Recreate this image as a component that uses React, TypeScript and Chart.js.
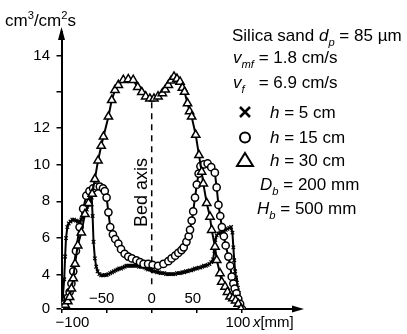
import React, { useEffect, useRef } from 'react';
import { Chart, LinearScale, registerables } from 'chart.js';

const FONT = '"Liberation Sans", Arial, Helvetica, sans-serif';

// h = 5 cm (×)
const crossX = [-100, -98.5, -97, -96, -95, -93.5, -92, -90, -88, -86, -84, -82, -80, -78, -76, -74, -72, -70, -68, -66.5, -65.5, -64.5, -63, -61.5, -60, -58, -56, -54, -52, -50, -48, -46, -44, -42, -40, -38, -36, -34, -32, -30, -28, -26, -24, -22, -20, -18, -16, -14, -12, -10, -8, -6, -4, -2, 0, 2, 4, 6, 8, 10, 12, 14, 16, 18, 20, 22, 24, 26, 28, 30, 32, 34, 36, 38, 40, 42, 44, 46, 48, 50, 52, 54, 56, 58, 60, 62, 64, 66, 68, 69.5, 70.5, 72, 74, 76, 78, 80, 82, 84, 86, 88, 89.5, 90.5, 91.5, 92.5, 93.5, 94.5, 95.5, 96.5, 97.5, 98.5, 99.5];
const crossY = [0, 1.5, 3.5, 5.0, 6.0, 6.6, 6.8, 6.9, 7.0, 7.0, 6.95, 6.9, 6.9, 7.0, 7.15, 7.35, 7.55, 7.8, 8.05, 8.2, 7.2, 5.8, 4.9, 4.45, 4.2, 4.05, 3.95, 3.95, 4.0, 4.0, 4.05, 4.1, 4.15, 4.2, 4.25, 4.3, 4.35, 4.35, 4.4, 4.45, 4.5, 4.5, 4.5, 4.5, 4.5, 4.5, 4.5, 4.45, 4.45, 4.45, 4.4, 4.35, 4.3, 4.3, 4.25, 4.2, 4.2, 4.15, 4.15, 4.1, 4.1, 4.1, 4.05, 4.05, 4.05, 4.05, 4.05, 4.05, 4.1, 4.1, 4.1, 4.15, 4.15, 4.2, 4.2, 4.25, 4.25, 4.3, 4.35, 4.35, 4.4, 4.4, 4.45, 4.5, 4.5, 4.55, 4.6, 4.7, 4.85, 5.3, 5.9, 6.15, 6.25, 6.3, 6.35, 6.4, 6.45, 6.5, 6.55, 6.6, 6.3, 5.5, 4.8, 4.2, 3.7, 3.1, 2.5, 1.9, 1.2, 0.6, 0];

// h = 15 cm (○)
const circleX = [-100, -96.5, -93, -91, -89, -87, -84, -80, -76, -72.5, -69, -65, -61, -57.5, -54, -52, -50, -48, -46, -43, -40.5, -37, -34, -30, -26, -22, -17, -13, -9, -4, 1, 7, 13, 18.5, 22, 26, 29.5, 33, 35.5, 38.5, 41, 42.5, 44.3, 46, 48, 50, 52, 54, 58, 62, 66, 70, 72, 74, 76, 77.8, 80, 82, 85, 87, 88.7, 90.5, 92, 94, 96, 98, 100];
const circleY = [0, 0.6, 1.3, 2.0, 3.0, 4.2, 5.3, 6.6, 7.6, 8.3, 8.55, 8.7, 8.8, 8.8, 8.7, 8.55, 8.2, 7.4, 6.6, 6.2, 5.95, 5.7, 5.4, 5.15, 5.0, 4.9, 4.8, 4.7, 4.6, 4.6, 4.55, 4.5, 4.6, 4.75, 4.9, 5.05, 5.2, 5.35, 5.5, 5.8, 6.1, 6.45, 6.95, 7.45, 8.2, 8.9, 9.5, 9.9, 10.0, 10.05, 9.85, 9.55, 8.75, 7.8, 7.2, 6.6, 6.1, 5.6, 5.0, 4.5, 3.8, 3.0, 2.4, 1.85, 1.2, 0.6, 0];

// h = 30 cm (△)
const triX = [-100, -96, -93, -91, -89, -87, -85, -82, -78, -74, -70, -66, -63, -59.5, -56, -53.5, -48, -44.3, -40.7, -37, -31.5, -26, -20.5, -15.5, -11, -6.7, -2, 2.5, 7, 11.8, 15, 18.4, 21.5, 24.7, 28, 31.4, 34, 36.4, 39.7, 42, 44.3, 48.8, 52.4, 55.4, 57.2, 61, 64.6, 66.5, 70.2, 72.1, 75.7, 77.6, 81.3, 84, 86.8, 90, 93, 96, 99];
const triY = [0, 0.5, 0.9, 1.4, 2.4, 3.6, 4.6, 5.6, 6.3, 7.3, 7.9, 8.4, 9.2, 10.2, 11.0, 11.5, 12.3, 12.76, 13.04, 13.18, 13.32, 13.34, 13.32, 13.12, 12.98, 12.86, 12.8, 12.8, 12.86, 12.95, 13.05, 13.18, 13.3, 13.41, 13.35, 13.27, 13.1, 12.99, 12.67, 12.45, 12.3, 11.6, 10.5, 9.6, 8.96, 7.9, 7.16, 6.44, 5.53, 4.81, 4.09, 3.2, 2.62, 2.0, 1.45, 1.25, 1.0, 0.6, 0];

const xTicks = [-100, -50, 0, 50, 100];
const xInnerLabels = [-50, 0, 50];
const xOuterLabels = [-100, 100];
const yTicks = [0, 4, 6, 8, 10, 12, 13, 14];
const yUnlabelled = [13];

// broken (piecewise) y axis: value knots and relative lengths of each segment
const Y_KNOTS = [0, 4, 12, 14, 14.65];
const Y_LENGTHS = [34, 147.5, 72, 23.5];

const totalLen = Y_LENGTHS.reduce((a, b) => a + b, 0);
const cum: number[] = [0];
Y_LENGTHS.forEach((l, i) => cum.push(cum[i] + l));

function valueToDecimal(v: number): number {
  for (let i = 0; i < Y_LENGTHS.length; i++) {
    const a = Y_KNOTS[i], b = Y_KNOTS[i + 1];
    if (v <= b || i === Y_LENGTHS.length - 1) {
      return (cum[i] + ((v - a) / (b - a)) * Y_LENGTHS[i]) / totalLen;
    }
  }
  return 0;
}
function decimalToValue(d: number): number {
  const p = d * totalLen;
  for (let i = 0; i < Y_LENGTHS.length; i++) {
    if (p <= cum[i + 1] || i === Y_LENGTHS.length - 1) {
      return Y_KNOTS[i] + ((p - cum[i]) / Y_LENGTHS[i]) * (Y_KNOTS[i + 1] - Y_KNOTS[i]);
    }
  }
  return 0;
}

class PiecewiseScale extends LinearScale {
  static id = 'piecewise';
  static defaults = (LinearScale as any).defaults;
  getPixelForValue(value: number) {
    if (value === null || value === undefined || isNaN(value)) return NaN;
    return (this as any).getPixelForDecimal(valueToDecimal(value));
  }
  getValueForPixel(pixel: number) {
    return decimalToValue((this as any).getDecimalForPixel(pixel));
  }
}

Chart.register(...registerables, PiecewiseScale as any);

type Seg = { t: string; it?: boolean; sub?: boolean; sup?: boolean };

function drawRich(ctx: CanvasRenderingContext2D, x: number, y: number, segs: Seg[], size: number) {
  let cx = x;
  for (const s of segs) {
    const sz = s.sub || s.sup ? size * 0.66 : size;
    ctx.font = `${s.it ? 'italic ' : ''}${sz}px ${FONT}`;
    const dy = s.sub ? size * 0.28 : s.sup ? -size * 0.42 : 0;
    ctx.fillText(s.t, cx, y + dy);
    cx += ctx.measureText(s.t).width;
  }
  return cx;
}

const annotations = {
  id: 'annotations',
  afterDraw(chart: any) {
    const ctx: CanvasRenderingContext2D = chart.ctx;
    const xs = chart.scales.x;
    const ys = chart.scales.y;
    const area = chart.chartArea;
    ctx.save();
    ctx.fillStyle = '#000';
    ctx.strokeStyle = '#000';

    // axis arrows
    const ax = area.left;
    ctx.beginPath();
    ctx.moveTo(ax, area.top - 5);
    ctx.lineTo(ax - 3.5, area.top + 8);
    ctx.lineTo(ax + 3.5, area.top + 8);
    ctx.closePath();
    ctx.fill();
    const ay = area.bottom;
    ctx.beginPath();
    ctx.moveTo(area.right + 4, ay);
    ctx.lineTo(area.right - 8, ay - 3.5);
    ctx.lineTo(area.right - 8, ay + 3.5);
    ctx.closePath();
    ctx.fill();

    // y-axis unit
    ctx.textBaseline = 'alphabetic';
    ctx.textAlign = 'left';
    drawRich(ctx, 5, 26, [{ t: 'cm' }, { t: '3', sup: true }, { t: '/cm' }, { t: '2', sup: true }, { t: 's' }], 17);

    // x tick labels
    ctx.font = `15px ${FONT}`;
    ctx.textAlign = 'center';
    const innerShift: Record<string, number> = { '-50': -5, '0': 0, '50': -4 };
    xInnerLabels.forEach((v) => {
      const t = v < 0 ? '\u2212' + Math.abs(v) : String(v);
      ctx.fillText(t, xs.getPixelForValue(v) + (innerShift[String(v)] || 0), area.bottom - 6);
    });
    xOuterLabels.forEach((v) => {
      const t = v < 0 ? '\u2212' + Math.abs(v) : String(v);
      ctx.fillText(t, xs.getPixelForValue(v) + (v < 0 ? 11 : -4), area.bottom + 18);
    });
    ctx.textAlign = 'left';
    drawRich(ctx, xs.getPixelForValue(100) + 11, area.bottom + 18, [{ t: 'x', it: true }, { t: '[mm]' }], 15);

    // bed axis
    const bx = xs.getPixelForValue(0);
    ctx.save();
    ctx.lineWidth = 1.5;
    ctx.setLineDash([6, 5]);
    ctx.beginPath();
    ctx.moveTo(bx, ys.getPixelForValue(12.7));
    ctx.lineTo(bx, ys.getPixelForValue(2.8));
    ctx.stroke();
    ctx.restore();
    ctx.save();
    ctx.translate(bx - 4.5, 227);
    ctx.rotate(-Math.PI / 2);
    ctx.font = `18px ${FONT}`;
    ctx.textAlign = 'left';
    ctx.fillText('Bed axis', 0, 0);
    ctx.restore();

    // legend text
    const S = 17;
    drawRich(ctx, 232, 41, [{ t: 'Silica sand ' }, { t: 'd', it: true }, { t: 'p', it: true, sub: true }, { t: ' = 85 \u00b5m' }], S);
    const eqX = drawRich(ctx, 233, 63, [{ t: 'v', it: true }, { t: 'mf', it: true, sub: true }, { t: ' ' }], S);
    drawRich(ctx, eqX, 63, [{ t: '= 1.8 cm/s' }], S);
    drawRich(ctx, 233, 88, [{ t: 'v', it: true }, { t: 'f', it: true, sub: true }], S);
    drawRich(ctx, eqX, 88, [{ t: '= 6.9 cm/s' }], S);

    // symbols
    ctx.lineWidth = 2.5;
    ctx.beginPath();
    ctx.moveTo(240, 107); ctx.lineTo(250, 117);
    ctx.moveTo(250, 107); ctx.lineTo(240, 117);
    ctx.stroke();
    drawRich(ctx, 270, 118, [{ t: 'h', it: true }, { t: ' = 5 cm' }], S);
    ctx.lineWidth = 2;
    ctx.beginPath();
    ctx.arc(245, 137.5, 5, 0, Math.PI * 2);
    ctx.stroke();
    drawRich(ctx, 270, 143, [{ t: 'h', it: true }, { t: ' = 15 cm' }], S);
    ctx.beginPath();
    ctx.moveTo(245, 153); ctx.lineTo(253, 166); ctx.lineTo(237, 166); ctx.closePath();
    ctx.stroke();
    drawRich(ctx, 270, 166, [{ t: 'h', it: true }, { t: ' = 30 cm' }], S);
    drawRich(ctx, 260, 190, [{ t: 'D', it: true }, { t: 'b', it: true, sub: true }, { t: ' = 200 mm' }], S);
    drawRich(ctx, 257, 214, [{ t: 'H', it: true }, { t: 'b', it: true, sub: true }, { t: ' = 500 mm' }], S);
    ctx.restore();
  },
};

const zip = (xs: number[], ys: number[]) => xs.map((x, i) => ({ x, y: ys[i] }));

export default function App() {
  const ref = useRef<HTMLCanvasElement | null>(null);
  useEffect(() => {
    if (!ref.current) return;
    const chart = new Chart(ref.current, {
      type: 'line',
      data: {
        datasets: [
          {
            label: 'h = 30 cm',
            data: zip(triX, triY),
            borderColor: '#000',
            borderWidth: 2,
            pointStyle: 'triangle',
            pointRadius: 4.8,
            pointBorderWidth: 1.5,
            pointBackgroundColor: '#fff',
            pointBorderColor: '#000',
            tension: 0,
          },
          {
            label: 'h = 15 cm',
            data: zip(circleX, circleY),
            borderColor: '#000',
            borderWidth: 2,
            pointStyle: 'circle',
            pointRadius: 3.6,
            pointBorderWidth: 1.5,
            pointBackgroundColor: '#fff',
            pointBorderColor: '#000',
            tension: 0,
          },
          {
            label: 'h = 5 cm',
            data: zip(crossX, crossY),
            borderColor: '#000',
            borderWidth: 2,
            pointStyle: 'crossRot',
            pointRadius: 2.5,
            pointBorderWidth: 1.2,
            pointBorderColor: '#000',
            tension: 0,
          },
        ],
      },
      options: {
        responsive: false,
        animation: false,
        events: [],
        layout: { padding: { left: 11.5, right: 107, top: 32, bottom: 21 } },
        plugins: { legend: { display: false }, tooltip: { enabled: false } },
        scales: {
          x: {
            type: 'linear',
            min: -100,
            max: 164.4,
            afterBuildTicks: (s: any) => { s.ticks = xTicks.map((v) => ({ value: v })); },
            afterFit: (s: any) => { s.height = 4; },
            ticks: { display: false },
            grid: { drawOnChartArea: false, drawTicks: true, tickLength: 4, color: '#000', lineWidth: 1.5 },
            border: { display: true, color: '#000', width: 2 },
          },
          y: {
            type: 'piecewise' as any,
            min: 0,
            max: 14.65,
            afterBuildTicks: (s: any) => { s.ticks = yTicks.map((v) => ({ value: v })); },
            afterFit: (s: any) => { s.width = 50; },
            ticks: {
              callback: (v: any) => (yUnlabelled.includes(Number(v)) ? '' : String(v)),
              font: { size: 15, family: FONT },
              color: '#000',
              padding: 6.5,
              autoSkip: false,
            },
            grid: { drawOnChartArea: false, drawTicks: true, tickLength: 5, color: '#000', lineWidth: 1.5 },
            border: { display: true, color: '#000', width: 2 },
          },
        },
      },
      plugins: [annotations],
    } as any);
    return () => chart.destroy();
  }, []);
  return (
    <div style={{ position: 'fixed', left: 0, top: 0, width: 407, height: 334, background: '#fff' }}>
      <canvas ref={ref} width={407} height={334} style={{ width: 407, height: 334, display: 'block' }} />
    </div>
  );
}
